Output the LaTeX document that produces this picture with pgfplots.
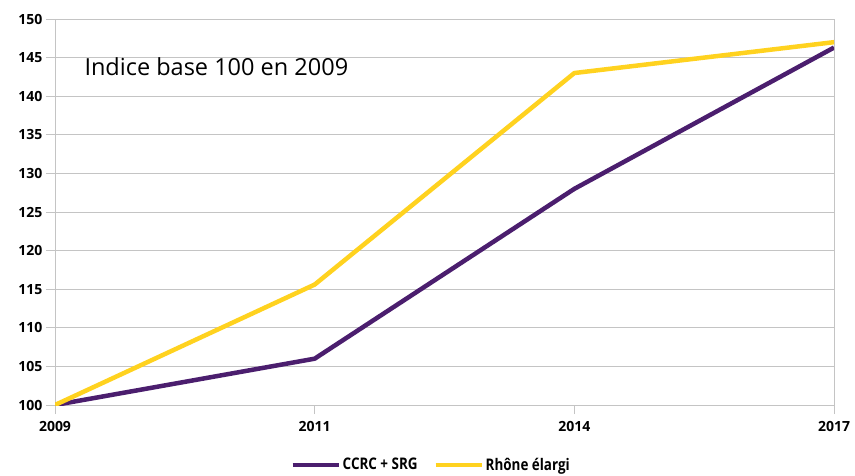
\documentclass[border=0pt]{standalone}
\usepackage{fontspec}
\setmainfont{Open Sans}
\usepackage{pgfplots}
\pgfplotsset{compat=1.18}
\definecolor{cpurple}{HTML}{4B1E6E}
\definecolor{cyellow}{HTML}{FFD21F}
\definecolor{cgrid}{HTML}{C4C4C4}
\begin{document}
\begin{tikzpicture}
\useasboundingbox (0,0) rectangle (855pt,475pt);
\begin{axis}[
  at={(55pt,70pt)}, anchor=south west,
  scale only axis, width=779pt, height=386pt,
  xmin=0, xmax=3, ymin=100, ymax=150,
  xtick={0,1,2,3}, xticklabels={2009,2011,2014,2017},
  ytick={100,105,...,150},
  ymajorgrids, grid style={cgrid, line width=1pt},
  axis line style={cgrid, line width=1pt},
  major tick style={cgrid, line width=1pt},
  tick align=outside, major tick length=9pt,
  xtick pos=bottom, ytick pos=left,
  /pgf/number format/assume math mode=true,
  ticklabel style={font=\fontsize{14}{16}\selectfont\bfseries},
  x tick label style={yshift=-4pt},
  legend style={at={(0.483,-0.155)}, anchor=center, draw=none, legend columns=2,
    font=\fontsize{16}{18}\selectfont\bfseries\addfontfeature{FakeStretch=0.84}, /tikz/every even column/.append style={column sep=14pt}},
  legend image code/.code={\draw[#1, line width=4pt] (0pt,0pt) -- (46pt,0pt);},
]
\addplot[cpurple, line width=4.5pt, line join=round] coordinates {(0,100) (1,106) (2,128) (3,146.3)};
\addlegendentry{CCRC + SRG}
\addplot[cyellow, line width=4.5pt, line join=round] coordinates {(0,100) (1,115.6) (2,143) (3,147)};
\addlegendentry{Rhône élargi}
\node[anchor=west, font=\fontsize{23.5}{26}\selectfont] at (axis cs:0.1,143.8) {Indice base 100 en 2009};
\end{axis}
\end{tikzpicture}
\end{document}
